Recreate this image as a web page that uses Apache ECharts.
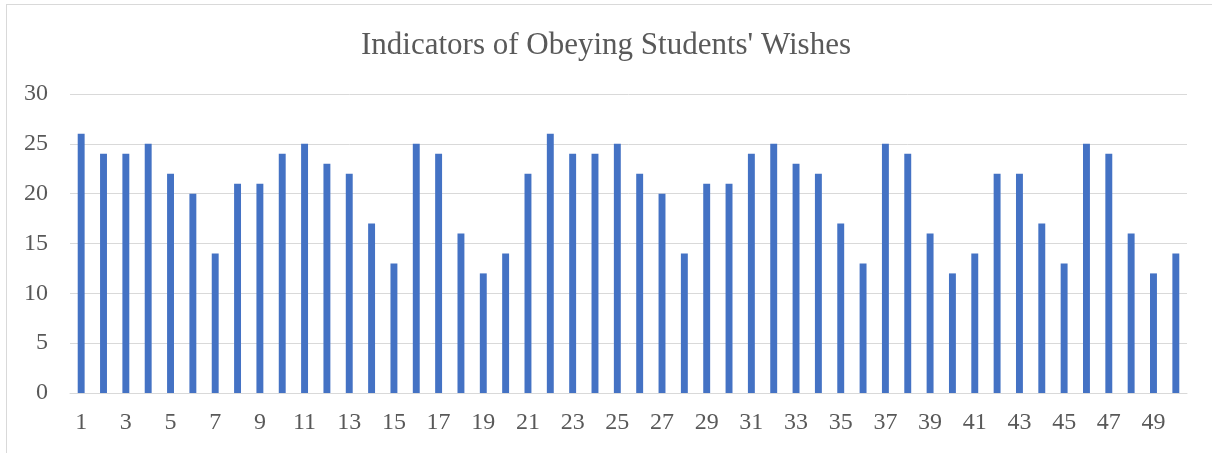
<!DOCTYPE html>
<html><head><meta charset="utf-8">
<script src="https://cdn.jsdelivr.net/npm/echarts@6/dist/echarts.min.js"></script>
<style>html,body{margin:0;padding:0;background:#fff}#c{width:1212px;height:453px}
#frame{position:absolute;left:6px;top:4px;width:1220px;height:460px;border:1px solid #d9d9d9;box-sizing:border-box;pointer-events:none}</style>
</head><body><div id="c"></div><div id="frame"></div>
<script>
const categories = Array.from({length:50},(_, i)=>String(i+1));
const values = [26,24,24,25,22,20,14,21,21,24,25,23,22,17,13,25,24,16,12,14,22,26,24,24,25,22,20,14,21,21,24,25,23,22,17,13,25,24,16,12,14,22,22,17,13,25,24,16,12,14];
const titleText = "Indicators of Obeying Students' Wishes";
const chart = echarts.init(document.getElementById('c'));
const font = "'Liberation Serif', 'DejaVu Serif', serif";
chart.setOption({
  animation:false,
  title:{text:titleText,left:'center',top:25,textStyle:{fontFamily:font,fontSize:31,fontWeight:'normal',color:'#595959'}},
  grid:{left:70,right:25,top:94,bottom:60,containLabel:false},
  xAxis:{type:'category',data:categories,
    axisLine:{lineStyle:{color:'#d9d9d9',width:1}},axisTick:{show:false},
    axisLabel:{interval:1,color:'#595959',fontFamily:font,fontSize:24,margin:18}},
  yAxis:{type:'value',min:0,max:30,interval:5,
    axisLine:{show:false},axisTick:{show:false},
    splitLine:{lineStyle:{color:'#d9d9d9',width:1}},
    axisLabel:{color:'#595959',fontFamily:font,fontSize:24,margin:22}},
  series:[{type:'bar',data:values,barWidth:'31%',itemStyle:{color:'#4472c4'}}]
});
</script></body></html>
